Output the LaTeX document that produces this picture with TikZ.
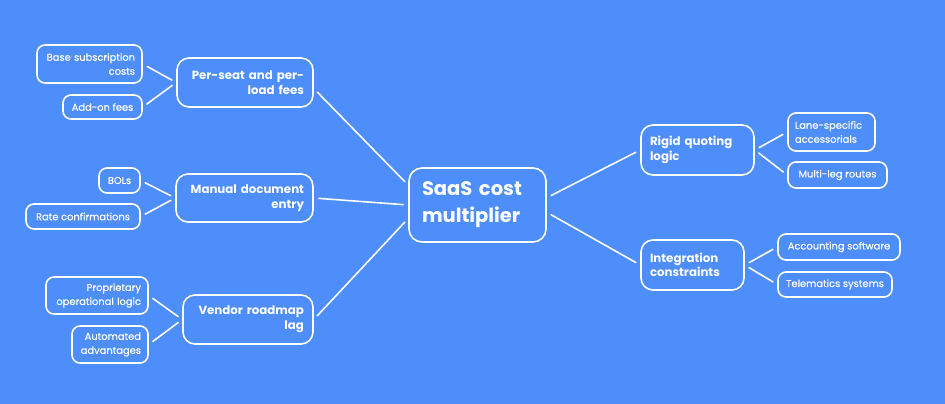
\documentclass[tikz,border=0pt]{standalone}
\usepackage{fontspec}
\setmainfont{Poppins}
\newfontfamily\leaffont{Poppins}[FakeBold=0.5]
\definecolor{bgblue}{RGB}{77,142,250}
\tikzset{
    box/.style={draw=white, line width=1.6pt, text=white, inner xsep=7pt, inner ysep=2pt},
    leaf/.style={box, rounded corners=8pt, font=\leaffont\fontsize{9.9}{14}\selectfont},
    branch/.style={box, rounded corners=12pt, inner xsep=9pt, font=\bfseries\fontsize{11.8}{14.5}\selectfont},
    root/.style={box, rounded corners=13pt, inner xsep=13pt, font=\bfseries\fontsize{19.5}{27}\selectfont},
    link/.style={white, line width=1.6pt, line cap=round, shorten >=5pt, shorten <=5pt}
}
\begin{document}
\begin{tikzpicture}[x=1pt,y=-1pt]
    \fill[bgblue] (0,0) rectangle (945,404);
    %centre
    \node[root, text width=111, minimum height=74, align=left] (main) at (477.5,205) {SaaS cost\\multiplier};
    %left branches
    \node[branch, text width=118, minimum height=49, align=right] (perseat) at (245,82.5) {Per-seat and per-\\load fees};
    \node[branch, text width=119, minimum height=48, align=right] (manual) at (244.5,198) {Manual document\\entry};
    \node[branch, text width=112, minimum height=49, align=right] (vendor) at (248,319.5) {Vendor roadmap\\lag};
    %right branches
    \node[branch, text width=95, minimum height=50, align=left] (rigid) at (697.5,150) {Rigid quoting\\logic};
    \node[branch, text width=85, minimum height=50, align=left] (integ) at (692.5,265) {Integration\\constraints};
    %left leaves
    \node[leaf, text width=91, minimum height=38, align=right] (base) at (89.5,64) {Base subscription\\costs};
    \node[leaf, minimum width=79, minimum height=24] (addon) at (102.5,107) {Add-on fees};
    \node[leaf, minimum width=41, minimum height=25] (bols) at (119.5,180.5) {BOLs};
    \node[leaf, minimum width=114, minimum height=25] (rate) at (83,216.5) {Rate confirmations};
    \node[leaf, text width=88, minimum height=37, align=right] (prop) at (97,295.5) {Proprietary\\operational logic};
    \node[leaf, text width=62, minimum height=37, align=right] (auto) at (110,344.5) {Automated\\advantages};
    %right leaves
    \node[leaf, text width=73, minimum height=38, align=left] (lane) at (831.5,132) {Lane-specific\\accessorials};
    \node[leaf, minimum width=99, minimum height=26] (multi) at (837.5,175) {Multi-leg routes};
    \node[leaf, minimum width=122, minimum height=26] (acct) at (839,247) {Accounting software};
    \node[leaf, minimum width=114, minimum height=25] (tele) at (835,284.5) {Telematics systems};
    %draw links
    \foreach \a/\b in {perseat.355/main.164, manual.east/main.180, vendor.east/main.191,
                       main.6/rigid.west, main.354/integ.west,
                       base.east/perseat.west, addon.east/perseat.west,
                       bols.east/manual.west, rate.east/manual.west,
                       prop.east/vendor.west, auto.east/vendor.west,
                       rigid.east/lane.west, rigid.east/multi.west,
                       integ.east/acct.west, integ.east/tele.west}
        {%
            \draw[link] (\a) -- (\b);
        }
\end{tikzpicture}
\end{document}
